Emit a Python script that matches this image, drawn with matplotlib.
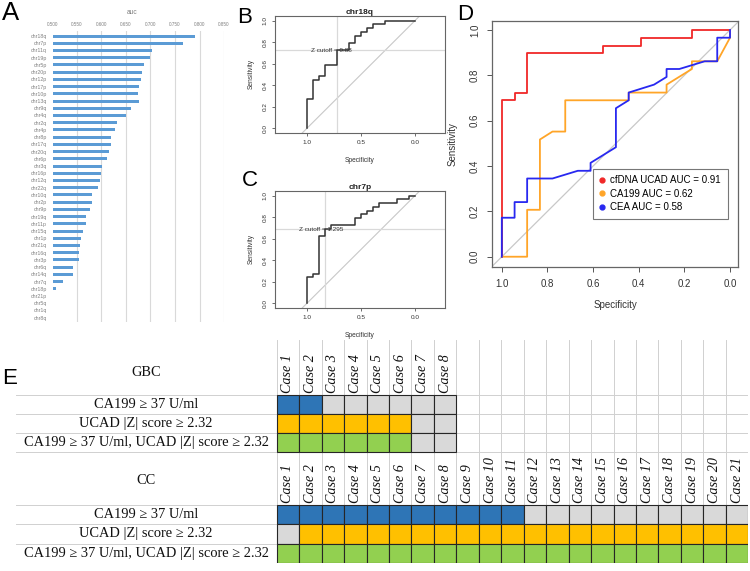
import numpy as np
import matplotlib
matplotlib.use("Agg")
import matplotlib.pyplot as plt
from matplotlib.patches import Rectangle

plt.rcParams['font.family'] = ['Liberation Sans', 'DejaVu Sans']

# ---- panel A: per-arm AUC ----
arms = ["chr18q", "chr7p", "chr11q", "chr19p", "chr5p", "chr20p", "chr12p", "chr17p",
        "chr10p", "chr13q", "chr9q", "chr4q", "chr2q", "chr4p", "chr8p", "chr17q",
        "chr20q", "chr6p", "chr3q", "chr16p", "chr12q", "chr22q", "chr10q", "chr2p",
        "chr9p", "chr19q", "chr11p", "chr15q", "chr1p", "chr21q", "chr16q", "chr3p",
        "chr6q", "chr14q", "chr7q", "chr18p", "chr21p", "chr5q", "chr1q", "chr8q"]
auc = [0.790, 0.767, 0.703, 0.700, 0.686, 0.682, 0.680, 0.676,
       0.675, 0.676, 0.661, 0.650, 0.632, 0.628, 0.620, 0.620,
       0.616, 0.612, 0.601, 0.598, 0.596, 0.592, 0.581, 0.581,
       0.577, 0.569, 0.569, 0.563, 0.559, 0.556, 0.555, 0.555,
       0.541, 0.541, 0.521, 0.508, 0.502, 0.500, 0.500, 0.500]
auc_ticks = [0.500, 0.550, 0.600, 0.650, 0.700, 0.750, 0.800, 0.850]

# ---- panels B/C: single-arm ROC (specificity, sensitivity) ----
b_spec = [1.0, 1.0, 0.944, 0.944, 0.889, 0.889, 0.833, 0.833, 0.722, 0.722, 0.611, 0.611,
          0.556, 0.556, 0.5, 0.5, 0.444, 0.444, 0.389, 0.389, 0.278, 0.278, 0.0]
b_sens = [0.0, 0.276, 0.276, 0.448, 0.448, 0.483, 0.483, 0.586, 0.586, 0.724, 0.724, 0.793,
          0.793, 0.862, 0.862, 0.897, 0.897, 0.931, 0.931, 0.966, 0.966, 1.0, 1.0]
c_spec = [1.0, 1.0, 0.944, 0.944, 0.889, 0.889, 0.833, 0.833, 0.778, 0.778, 0.556, 0.556,
          0.5, 0.5, 0.444, 0.444, 0.389, 0.389, 0.333, 0.333, 0.167, 0.167, 0.056, 0.056, 0.0]
c_sens = [0.0, 0.241, 0.241, 0.276, 0.276, 0.621, 0.621, 0.690, 0.690, 0.724, 0.724, 0.793,
          0.793, 0.828, 0.828, 0.862, 0.862, 0.897, 0.897, 0.931, 0.931, 0.966, 0.966, 1.0, 1.0]

# ---- panel D: marker comparison ROC ----
ucad_spec = [1.0, 1.0, 0.944, 0.944, 0.889, 0.889, 0.556, 0.556, 0.389, 0.389, 0.167, 0.167, 0.0]
ucad_sens = [0.0, 0.690, 0.690, 0.724, 0.724, 0.897, 0.897, 0.931, 0.931, 0.966, 0.966, 1.0, 1.0]
ca199_spec = [1.0, 0.889, 0.889, 0.833, 0.833, 0.778, 0.722, 0.722, 0.444, 0.444, 0.278, 0.278,
              0.167, 0.167, 0.056, 0.0, 0.0]
ca199_sens = [0.0, 0.0, 0.207, 0.207, 0.517, 0.552, 0.552, 0.690, 0.690, 0.724, 0.724, 0.759,
              0.828, 0.862, 0.862, 0.966, 1.0]
cea_spec = [1.0, 1.0, 0.944, 0.944, 0.889, 0.889, 0.778, 0.667, 0.611, 0.611, 0.5, 0.5,
            0.444, 0.444, 0.333, 0.278, 0.278, 0.222, 0.111, 0.056, 0.056, 0.0, 0.0]
cea_sens = [0.0, 0.172, 0.172, 0.241, 0.241, 0.345, 0.345, 0.379, 0.379, 0.414, 0.483, 0.655,
            0.690, 0.724, 0.759, 0.793, 0.828, 0.828, 0.862, 0.862, 0.966, 0.966, 1.0]
d_labels = ["cfDNA UCAD AUC = 0.91", "CA199 AUC = 0.62", "CEA AUC = 0.58"]

# ---- panel E: per-case positivity (1 = positive) ----
row_labels = ["CA199 \u2265 37 U/ml", "UCAD |Z| score \u2265 2.32",
              "CA199 \u2265 37 U/ml, UCAD |Z| score \u2265 2.32"]
gbc_ca199 = [1, 1, 0, 0, 0, 0, 0, 0]
gbc_ucad = [1, 1, 1, 1, 1, 1, 0, 0]
gbc_comb = [1, 1, 1, 1, 1, 1, 0, 0]
cc_ca199 = [1, 1, 1, 1, 1, 1, 1, 1, 1, 1, 1, 0, 0, 0, 0, 0, 0, 0, 0, 0, 0]
cc_ucad = [0, 1, 1, 1, 1, 1, 1, 1, 1, 1, 1, 1, 1, 1, 1, 1, 1, 1, 1, 1, 1]
cc_comb = [1, 1, 1, 1, 1, 1, 1, 1, 1, 1, 1, 1, 1, 1, 1, 1, 1, 1, 1, 1, 1]

W, H = 750, 571
fig = plt.figure(figsize=(W / 100, H / 100), dpi=100)


def px_axes(x0, y0, x1, y1):
    return fig.add_axes([x0 / W, 1 - y1 / H, (x1 - x0) / W, (y1 - y0) / H])


# ================= A =================
axA = px_axes(52.5, 31, 224, 322)
ypos = np.arange(len(arms))
axA.barh(ypos, np.array(auc) - 0.5, left=0.5, height=0.42, color='#5B9BD5', zorder=2)
for v in auc_ticks[1:]:
    axA.axvline(v, color='#D9D9D9', lw=0.8, zorder=0)
axA.set_xlim(0.5, 0.85)
axA.set_ylim(39.6, -0.7)
axA.xaxis.tick_top()
axA.set_xticks(auc_ticks, [f"{v:.3f}" for v in auc_ticks])
axA.set_yticks(ypos, arms)
axA.tick_params(axis='x', length=0, labelsize=3.3, labelcolor='#808080', pad=3)
axA.tick_params(axis='y', length=0, labelsize=3.8, labelcolor='#808080', pad=4)
for s in axA.spines.values():
    s.set_visible(False)
fig.text(132 / W, 1 - 13 / H, "auc", ha='center', va='center', fontsize=4.8, color='#808080')


# ================= B / C =================
def small_roc(ax, spec, sens, title, cut_spec, cut_sens, cut_text, text_x):
    ax.set_xlim(1.296, -0.278)
    ax.set_ylim(-0.044, 1.046)
    ax.axline((1, 0), (0, 1), color='#C8C8C8', lw=0.8, zorder=1)
    ax.axhline(cut_sens, color='#D9D9D9', lw=0.9, zorder=1)
    ax.axvline(cut_spec, color='#D9D9D9', lw=0.9, zorder=1)
    ax.plot(spec, sens, color='#333333', lw=1.1, zorder=3)
    ax.text(text_x, cut_sens, cut_text, ha='center', va='center', fontsize=4.6,
            color='#333333', zorder=2)
    ax.set_xticks([1.0, 0.5, 0.0], ["1.0", "0.5", "0.0"])
    ax.set_yticks([0, 0.2, 0.4, 0.6, 0.8, 1.0], ["0.0", "0.2", "0.4", "0.6", "0.8", "1.0"])
    ax.tick_params(labelsize=4.6, length=2.2, width=0.6, color='#555555',
                   labelcolor='#333333', pad=3)
    ax.tick_params(axis='y', labelrotation=90)
    for lab in ax.get_yticklabels():
        lab.set_va('center')
    for s in ax.spines.values():
        s.set_color('#666666')
        s.set_linewidth(0.8)
    ax.set_title(title, fontsize=6, fontweight='bold', pad=1.5, color='#222222')
    ax.set_xlabel("Specificity", fontsize=4.8, color='#333333')
    ax.set_ylabel("Sensitivity", fontsize=4.8, color='#333333')
    ax.xaxis.set_label_coords(0.5, -0.205)
    ax.yaxis.set_label_coords(-0.118, 0.5)


axB = px_axes(275, 15.7, 445, 133)
small_roc(axB, b_spec, b_sens, "chr18q", 0.722, 0.724, "Z cutoff = 0.88", 0.772)
axC = px_axes(275, 190.7, 445, 308)
small_roc(axC, c_spec, c_sens, "chr7p", 0.833, 0.690, "Z cutoff = 1.295", 0.868)

# ================= D =================
axD = px_axes(492, 20.7, 738, 266.7)
axD.set_xlim(1.043, -0.035)
axD.set_ylim(-0.044, 1.041)
axD.axline((1, 0), (0, 1), color='#C8C8C8', lw=0.9, zorder=1)
d_colors = ['#F02828', '#FFA528', '#2828F0']
for sp, se, col in zip([ucad_spec, ca199_spec, cea_spec], [ucad_sens, ca199_sens, cea_sens],
                       d_colors):
    axD.plot(sp, se, color=col, lw=1.3, zorder=3)
handles = [plt.Line2D([], [], ls='none', marker='o', markersize=3.5, color=c) for c in d_colors]
leg = axD.legend(handles, d_labels, loc='lower left', bbox_to_anchor=(0.409, 0.194),
                 fontsize=7, frameon=True, fancybox=False, borderaxespad=0,
                 handlelength=0.6, handletextpad=0.5, borderpad=0.7, labelspacing=0.35)
leg.get_frame().set_edgecolor('#555555')
leg.get_frame().set_linewidth(0.8)
ticks = [1.0, 0.8, 0.6, 0.4, 0.2, 0.0]
axD.set_xticks(ticks, [f"{t:.1f}" for t in ticks])
axD.set_yticks(ticks, [f"{t:.1f}" for t in ticks])
axD.tick_params(labelsize=7, length=3.6, width=0.7, color='#555555', labelcolor='#333333', pad=5)
axD.tick_params(axis='y', labelrotation=90)
for lab in axD.get_yticklabels():
    lab.set_va('center')
for s in axD.spines.values():
    s.set_color('#666666')
    s.set_linewidth(0.9)
axD.set_xlabel("Specificity", fontsize=7, color='#333333')
axD.set_ylabel("Sensitivity", fontsize=7, color='#333333')
axD.xaxis.set_label_coords(0.5, -0.135)
axD.yaxis.set_label_coords(-0.138, 0.5)

# ================= E =================
serif = ['Liberation Serif', 'DejaVu Serif']
ncol = 21
cw = 22.46
col0_px = 276.7
axE = px_axes(16, 318, 748.3, 563)
x_left = -(col0_px - 16) / cw
axE.set_xlim(x_left, ncol)
axE.set_ylim(245, 0)
axE.axis('off')
label_x = (146 - col0_px) / cw
grid_c = '#D0D0D0'
cell_edge = '#262626'
on_colors = ['#2E75B6', '#FFC000', '#92D050']
off_color = '#D9D9D9'

blocks = [
    ("GBC", [gbc_ca199, gbc_ucad, gbc_comb], 22, 77, 19.0, 55),
    ("CC", [cc_ca199, cc_ucad, cc_comb], 134, 187, 19.3, 162),
]
for name, rows, h_top, r_top, rh, name_y in blocks:
    n = len(rows[0])
    # header grid
    for c in range(ncol + 1):
        axE.plot([c, c], [h_top, r_top], color=grid_c, lw=0.7, zorder=1)
    for c in range(n):
        axE.text(c + 0.5, r_top - 2, f"Case {c + 1}", rotation=90, ha='center', va='bottom',
                 fontsize=10.2, style='italic', family=serif, color='#111111')
    axE.text(label_x, name_y, name, ha='center', va='center', fontsize=10.4, family=serif,
             color='#111111')
    # row separators and empty grid
    for r in range(len(rows) + 1):
        yy = r_top + r * rh
        axE.plot([x_left, ncol], [yy, yy], color=grid_c, lw=0.7, zorder=1)
    for c in range(n, ncol + 1):
        axE.plot([c, c], [r_top, r_top + len(rows) * rh], color=grid_c, lw=0.7, zorder=1)
    for r, vals in enumerate(rows):
        yy = r_top + r * rh
        axE.text(label_x, yy + rh / 2, row_labels[r], ha='center', va='center', fontsize=10.4,
                 family=serif, color='#111111')
        for c, v in enumerate(vals):
            axE.add_patch(Rectangle((c, yy), 1, rh, facecolor=on_colors[r] if v else off_color,
                                    edgecolor=cell_edge, lw=0.8, zorder=2))

# ---- panel letters ----
for let, x, y, fs in [("A", 10.5, 13.3, 18.5), ("B", 244.3, 17.2, 16), ("C", 250, 180, 16),
                      ("D", 465, 15, 16), ("E", 10, 378, 16)]:
    fig.text(x / W, 1 - y / H, let, ha='center', va='center', fontsize=fs, color='black')

fig.savefig("out.png", dpi=100)
